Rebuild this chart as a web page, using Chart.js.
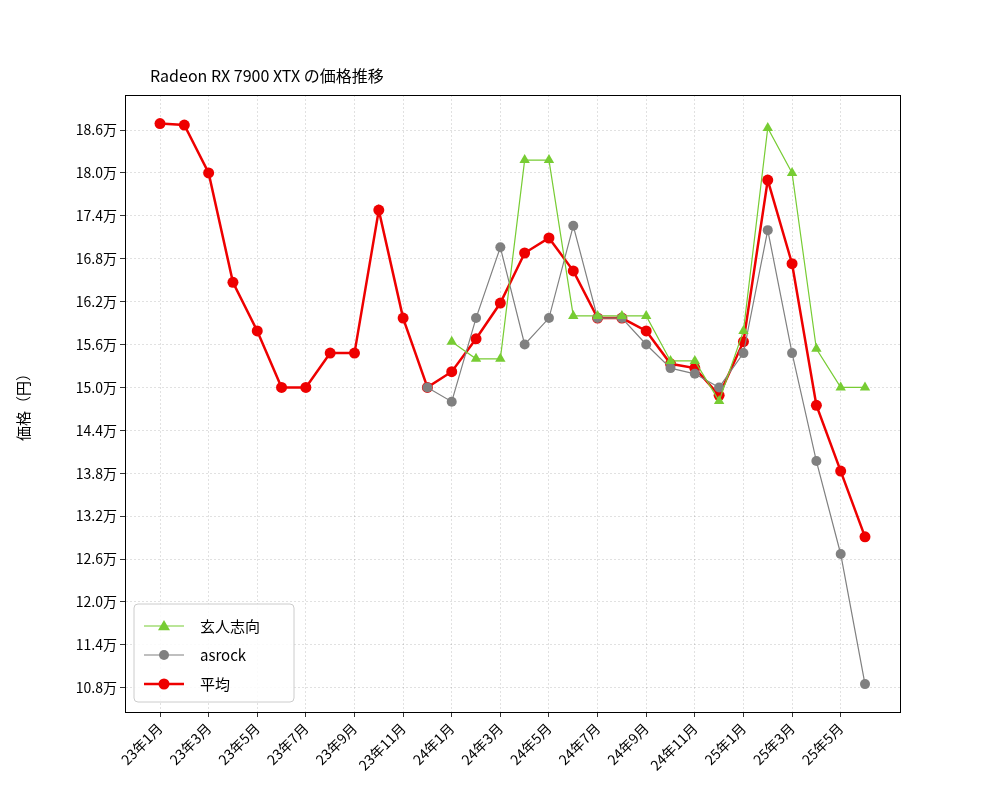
<!DOCTYPE html>
<html><head><meta charset="utf-8">
<script src="https://cdn.jsdelivr.net/npm/chart.js@4"></script>
<style>body{margin:0;background:#fff}</style></head>
<body><canvas id="c" width="1000" height="800"></canvas>
<script>
const months = ['23年1月','23年2月','23年3月','23年4月','23年5月','23年6月','23年7月','23年8月','23年9月','23年10月','23年11月','23年12月',
'24年1月','24年2月','24年3月','24年4月','24年5月','24年6月','24年7月','24年8月','24年9月','24年10月','24年11月','24年12月',
'25年1月','25年2月','25年3月','25年4月','25年5月','25年6月'];
const avg = [186900,186700,180000,164700,157900,150000,150000,154800,154800,174800,159700,150000,
152200,156800,161800,168800,170900,166300,159700,159700,157900,153300,152700,148900,
156400,179000,167300,147500,138300,129100];
const kurouto = [null,null,null,null,null,null,null,null,null,null,null,null,
156400,154000,154000,181800,181800,160000,160000,160000,160000,153700,153700,148100,
157900,186300,180000,155400,150000,150000];
const asrock = [null,null,null,null,null,null,null,null,null,null,null,150000,
148000,159700,169600,156000,159700,172600,159700,159700,156000,152700,151900,150000,
154800,172000,154800,139700,126700,108500];
const yTicks = [108000,114000,120000,126000,132000,138000,144000,150000,156000,162000,168000,174000,180000,186000];
const F = '"Noto Sans CJK JP", sans-serif';
const toXY = a => a.map((v,i)=>({x:i,y:v}));
const series = [
 {label:'玄人志向', data:kurouto, color:'#77cc33', style:'triangle', r:6, w:1.2},
 {label:'asrock', data:asrock, color:'#808080', style:'circle', r:5, w:1.2},
 {label:'平均', data:avg, color:'#ee0000', style:'circle', r:5.5, w:2.5}
];
const deco = {
 id:'deco',
 afterDraw(ch){
  const c=ch.ctx, a=ch.chartArea;
  c.save();
  c.strokeStyle='#000'; c.lineWidth=1;
  c.strokeRect(a.left+0.5,a.top+0.5,a.right-a.left,a.bottom-a.top);
  c.fillStyle='#000'; c.font='16px '+F; c.textBaseline='alphabetic'; c.textAlign='left';
  c.fillText('Radeon RX 7900 XTX の価格推移',150,82);
  const lx=134, ly=604, lw=160, lh=98;
  c.fillStyle='rgba(255,255,255,0.85)'; c.strokeStyle='#ccc';
  c.beginPath(); c.roundRect(lx,ly,lw,lh,4); c.fill(); c.stroke();
  series.forEach((s,i)=>{
   const y=ly+22+i*29;
   c.strokeStyle=s.color; c.lineWidth=s.w;
   c.beginPath(); c.moveTo(lx+10,y); c.lineTo(lx+50,y); c.stroke();
   c.fillStyle=s.color; c.beginPath();
   if(s.style==='triangle'){c.moveTo(lx+30,y-s.r);c.lineTo(lx+30+s.r,y+s.r*0.7);c.lineTo(lx+30-s.r,y+s.r*0.7);c.closePath();}
   else c.arc(lx+30,y,s.r,0,Math.PI*2);
   c.fill();
   c.fillStyle='#000'; c.font='15px '+F; c.textBaseline='middle';
   c.fillText(s.label,lx+66,y);
  });
  c.restore();
 }
};
new Chart(document.getElementById('c'),{
 type:'line',
 data:{datasets:series.map(s=>({label:s.label,data:toXY(s.data),borderColor:s.color,backgroundColor:s.color,
   borderWidth:s.w,pointStyle:s.style,pointRadius:s.r,pointHoverRadius:s.r,pointBorderWidth:0,spanGaps:false,tension:0}))},
 options:{responsive:false,animation:false,devicePixelRatio:1,parsing:false,
  layout:{padding:{top:95,right:100,left:14,bottom:0}},
  plugins:{legend:{display:false},tooltip:{enabled:false}},
  scales:{
   x:{type:'linear',min:-1.44,max:30.44,
    afterBuildTicks:s=>{s.ticks=[];for(let i=0;i<=28;i+=2)s.ticks.push({value:i});},
    afterFit:s=>{s.height=88;},
    ticks:{autoSkip:false,maxRotation:45,minRotation:45,color:'#000',font:{family:F,size:14},callback:v=>months[v]},
    grid:{color:'rgba(0,0,0,0.15)',lineWidth:0.8,drawTicks:true,tickColor:'#000',tickLength:5},
    border:{color:'#000',dash:[2,2]}},
   y:{type:'linear',min:104600,max:190900,
    afterBuildTicks:s=>{s.ticks=yTicks.map(v=>({value:v}));},
    afterFit:s=>{s.width=111;},
    title:{display:true,text:'価格（円）',color:'#000',font:{family:F,size:15},padding:0},
    ticks:{color:'#000',font:{family:F,size:14},callback:v=>(v/10000).toFixed(1)+'万'},
    grid:{color:'rgba(0,0,0,0.15)',lineWidth:0.8,tickColor:'#000',tickLength:5},
    border:{color:'#000',dash:[2,2]}}
  }},
 plugins:[deco]
});
</script></body></html>
